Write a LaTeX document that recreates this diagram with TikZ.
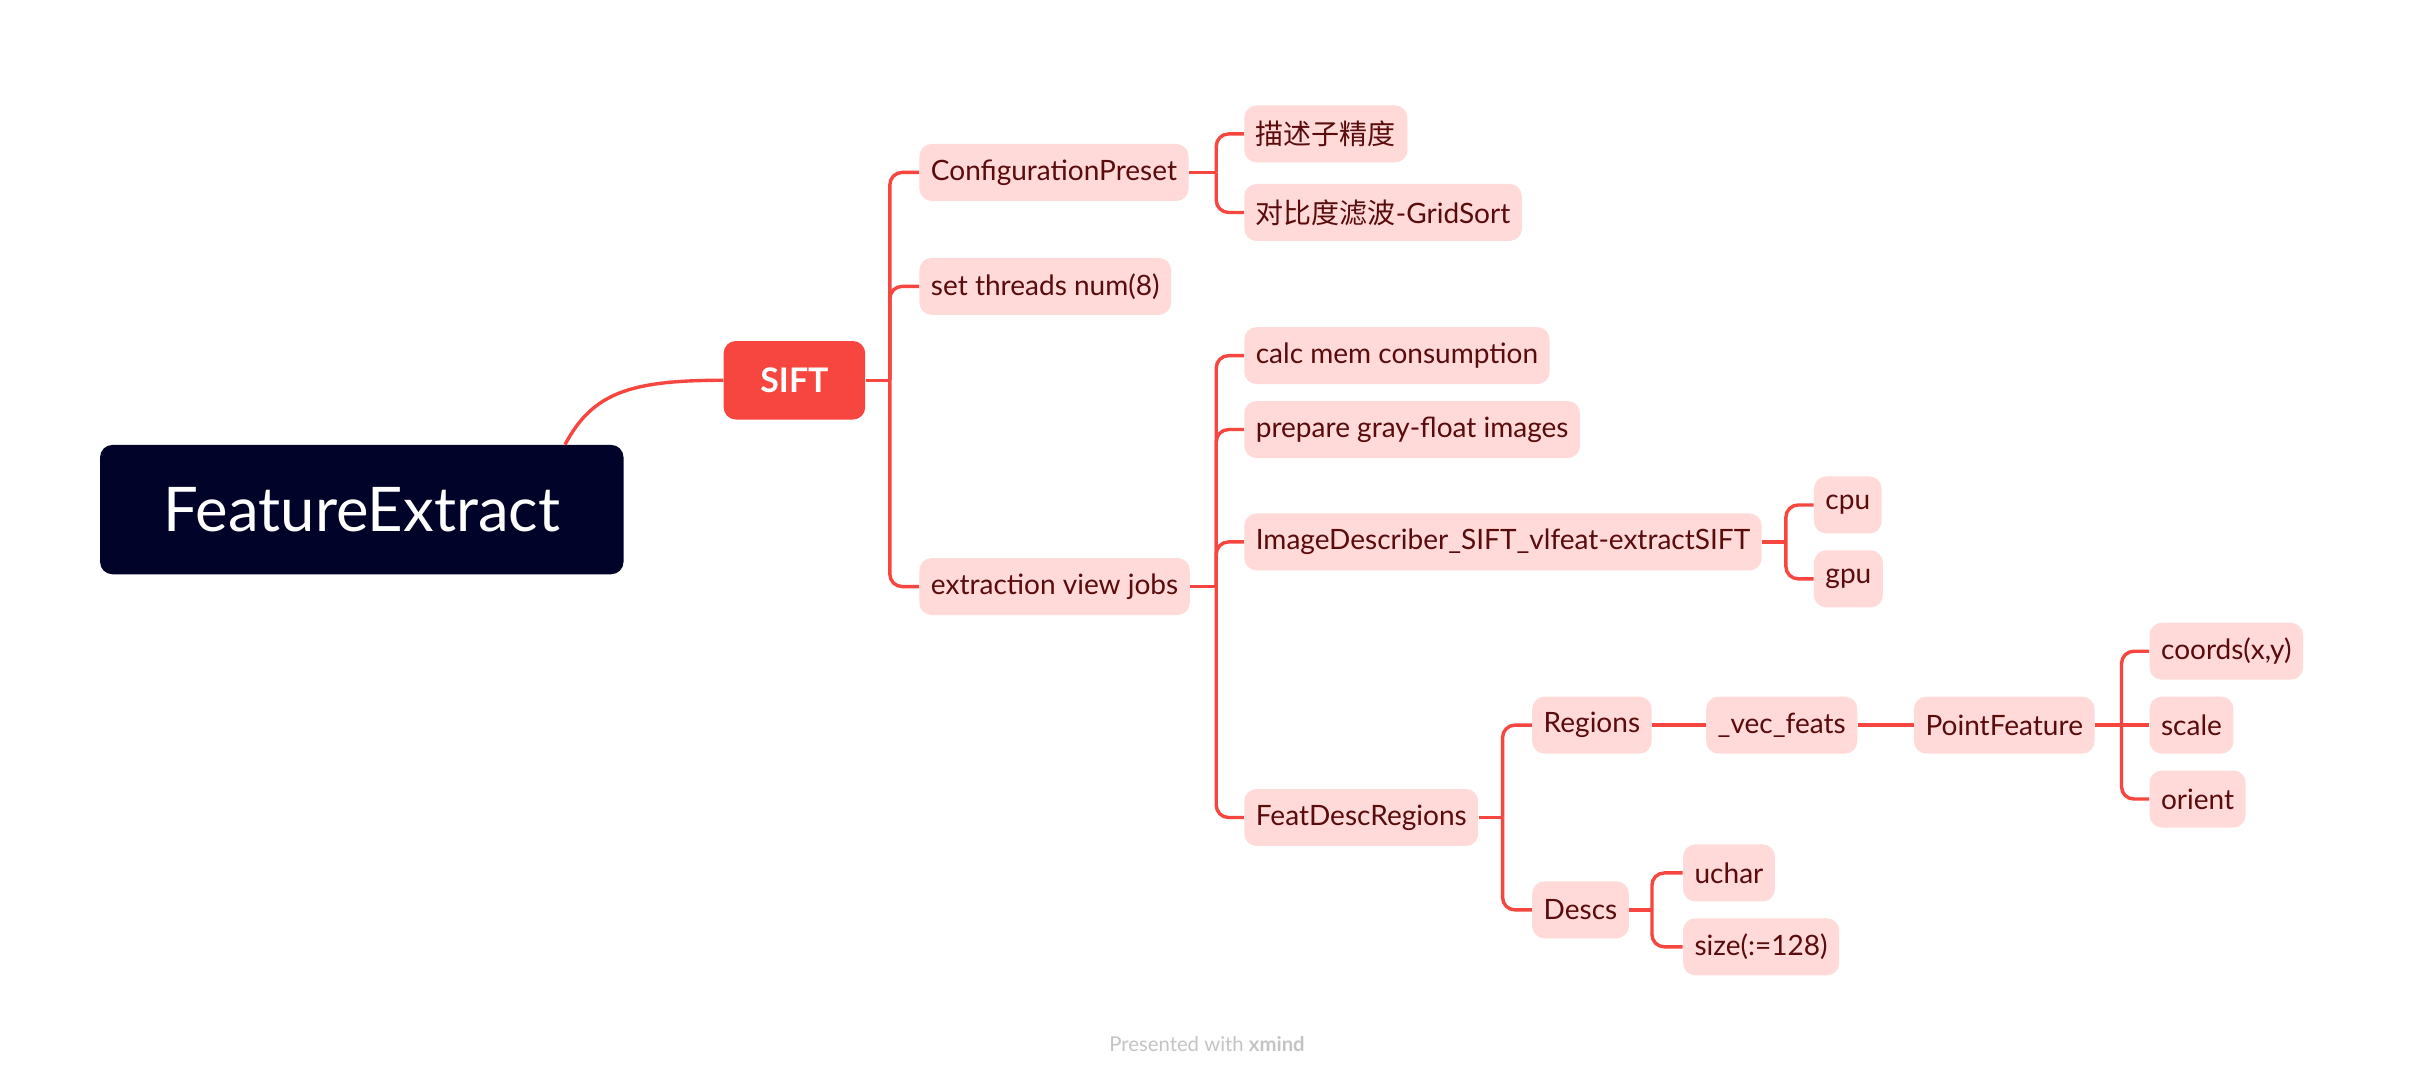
\documentclass[tikz,border=0pt]{standalone}
\usepackage{fontspec}
\setmainfont{Lato}
\newfontfamily\cjk{Noto Sans CJK SC}
\usetikzlibrary{calc}
\definecolor{linered}{HTML}{F7463F}
\definecolor{pinkfill}{HTML}{FFDAD8}
\definecolor{maroon}{HTML}{5A0B0B}
\definecolor{navy}{HTML}{020328}
\definecolor{footgray}{HTML}{C4C4C4}
\tikzset{
  leaf/.style={anchor=west, fill=pinkfill, text=maroon, rounded corners=8pt,
    minimum height=37pt, inner xsep=7.5pt, inner ysep=0pt,
    font=\fontsize{18.2}{20}\selectfont},
  conn/.style={draw=linered, line width=2.2pt, rounded corners=8pt},
}
\begin{document}
\begin{tikzpicture}[x=1pt,y=-1pt]
\useasboundingbox[fill=white] (0,0) rectangle (1568,700.2);
% root and main topic
\node[fill=navy, text=white, rounded corners=8pt, minimum width=340pt, minimum height=84pt,
  font=\fontsize{40}{44}\selectfont] (FE) at (235,331) {FeatureExtract};
\node[fill=linered, text=white, rounded corners=8pt, minimum width=92pt, minimum height=51pt,
  font=\bfseries\fontsize{22}{24}\selectfont] (SIFT) at (516,247) {SIFT};
\coordinate (FEtop) at ($(FE.north)+(132,0)$);
\draw[conn] (FEtop) .. controls ($(FEtop)+(18,-34)$) and ($(SIFT.west)+(-60,0)$) .. (SIFT.west);

% level 1
\node[leaf] (cfg) at (597,112) {ConfigurationPreset};
\node[leaf] (thr) at (597,186) {set threads num(8)};
\node[leaf] (evj) at (597,381) {extraction view jobs};
\coordinate (jS) at (578,247);
\draw[conn] (SIFT.east) -- (jS);
\draw[conn] (jS) |- (cfg.west);
\draw[conn] (jS) |- (thr.west);
\draw[conn] (jS) |- (evj.west);

% ConfigurationPreset children
\node[leaf] (d1) at (808,87) {\cjk 描述子精度};
\node[leaf] (d2) at (808,138) {{\cjk 对比度滤波}-GridSort};
\coordinate (jC) at (790,112);
\draw[conn] (cfg.east) -- (jC);
\draw[conn] (jC) |- (d1.west);
\draw[conn] (jC) |- (d2.west);

% extraction view jobs children
\node[leaf] (calc) at (808,231) {calc mem consumption};
\node[leaf] (prep) at (808,279) {prepare gray-float images};
\node[leaf] (imgd) at (808,352) {ImageDescriber\_SIFT\_vlfeat-extractSIFT};
\node[leaf] (fdr) at (808,531) {FeatDescRegions};
\coordinate (jE) at (790,381);
\draw[conn] (evj.east) -- (jE);
\draw[conn] (jE) |- (calc.west);
\draw[conn] (jE) |- (prep.west);
\draw[conn] (jE) |- (imgd.west);
\draw[conn] (jE) |- (fdr.west);

% ImageDescriber children
\node[leaf] (cpu) at (1178,328) {cpu};
\node[leaf] (gpu) at (1178,376) {gpu};
\coordinate (jI) at (1160,352);
\draw[conn] (imgd.east) -- (jI);
\draw[conn] (jI) |- (cpu.west);
\draw[conn] (jI) |- (gpu.west);

% FeatDescRegions children
\node[leaf] (reg) at (995,471) {Regions};
\node[leaf] (desc) at (995,591) {Descs};
\coordinate (jF) at (976,531);
\draw[conn] (fdr.east) -- (jF);
\draw[conn] (jF) |- (reg.west);
\draw[conn] (jF) |- (desc.west);

% Regions chain
\node[leaf] (vec) at (1108,471) {\_vec\_feats};
\node[leaf] (pf) at (1243,471) {PointFeature};
\draw[conn] (reg.east) -- (vec.west);
\draw[conn] (vec.east) -- (pf.west);

% PointFeature children
\node[leaf] (coords) at (1396,423) {coords(x,y)};
\node[leaf] (scale) at (1396,471) {scale};
\node[leaf] (orient) at (1396,519) {orient};
\coordinate (jP) at (1378,471);
\draw[conn] (pf.east) -- (jP);
\draw[conn] (jP) |- (coords.west);
\draw[conn] (jP) -- (scale.west);
\draw[conn] (jP) |- (orient.west);

% Descs children
\node[leaf] (uchar) at (1093,567) {uchar};
\node[leaf] (size) at (1093,615) {size(:=128)};
\coordinate (jD) at (1073,591);
\draw[conn] (desc.east) -- (jD);
\draw[conn] (jD) |- (uchar.west);
\draw[conn] (jD) |- (size.west);

% footer
\node[text=footgray, font=\fontsize{13.2}{15}\selectfont] (foot) at (784,678) {Presented with \textbf{xmind}};
\end{tikzpicture}
\end{document}
